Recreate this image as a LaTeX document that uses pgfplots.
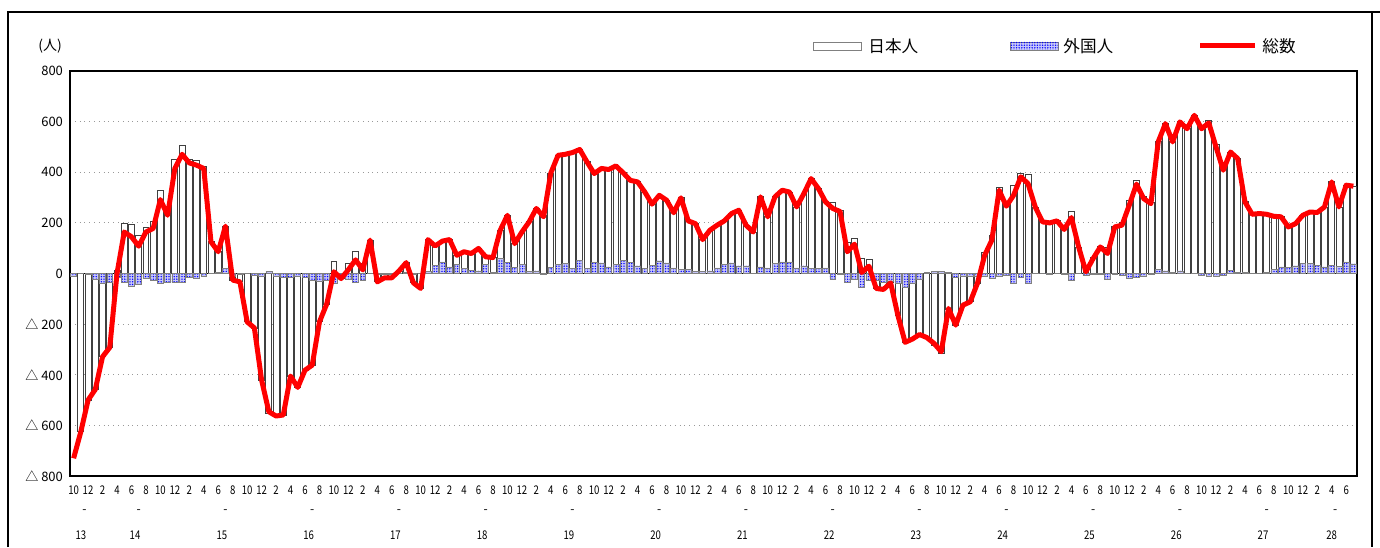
\documentclass[border=0pt]{standalone}
\usepackage{pgfplots}
\pgfplotsset{compat=1.18}
\usepackage{pgfplotstable}
\usepackage{fontspec}
\setmainfont{Noto Sans CJK JP}
\usetikzlibrary{patterns.meta}

% i = month index (0 = H13/10), W = visible Japanese bar end, F = foreigners, T = total
\pgfplotstableread{
i W F T
0 0 -10 -730
1 -625 0 -625
2 -500 -5 -500
3 -458 -22 -458
4 -329 -40 -329
5 -292 -33 -292
6 13 -13 0
7 197 -33 164
8 193 -50 145
9 151 -42 108
10 184 -20 164
11 204 -26 178
12 329 -37 292
13 265 -35 230
14 450 -35 415
15 507 -36 471
16 450 -13 437
17 447 -20 428
18 425 -10 415
19 125 2 125
20 86 5 86
21 187 20 187
22 -26 -10 -26
23 -33 -5 -33
24 -191 0 -191
25 -215 -8 -215
26 -421 -10 -421
27 -553 7 -546
28 -563 -10 -563
29 -559 -15 -559
30 -405 -15 -405
31 -450 -12 -450
32 -382 -15 -382
33 -362 -25 -362
34 -191 -30 -191
35 -121 -25 -121
36 47 -40 7
37 -20 -10 -20
38 39 -24 15
39 89 -35 54
40 39 -25 14
41 132 0 132
42 -33 -5 -33
43 -17 -5 -17
44 -17 -3 -17
45 10 0 10
46 43 3 43
47 -37 -3 -37
48 -59 0 -59
49 134 9 134
50 109 33 109
51 128 46 128
52 134 26 134
53 72 37 72
54 86 20 86
55 79 13 79
56 99 10 99
57 66 37 66
58 63 5 63
59 171 59 171
60 230 43 230
61 118 24 118
62 164 36 164
63 204 8 204
64 257 10 257
65 229 -5 224
66 397 24 397
67 467 36 467
68 471 39 471
69 478 20 478
70 490 53 490
71 441 20 441
72 395 43 395
73 415 42 415
74 411 26 411
75 425 36 425
76 398 53 398
77 368 43 368
78 362 30 362
79 322 20 322
80 274 33 274
81 309 50 309
82 290 42 290
83 240 22 240
84 299 17 299
85 208 17 208
86 197 7 197
87 134 9 134
88 171 10 171
89 191 22 191
90 208 36 208
91 237 42 237
92 250 30 250
93 191 30 191
94 164 2 164
95 303 26 303
96 224 22 224
97 303 39 303
98 329 46 329
99 322 46 322
100 263 22 263
101 316 30 316
102 375 20 375
103 336 20 336
104 283 22 283
105 279 -22 257
106 250 -5 245
107 121 -36 86
108 138 -22 116
109 59 -55 4
110 55 -26 29
111 -59 -26 -59
112 -63 -33 -63
113 -37 -30 -37
114 -165 -37 -165
115 -272 -53 -272
116 -259 -37 -259
117 -241 -22 -241
118 -256 3 -253
119 -284 8 -276
120 -317 8 -309
121 -143 5 -138
122 -204 -15 -204
123 -125 -10 -125
124 -112 -10 -112
125 -39 -10 -39
126 82 -10 72
127 150 -18 132
128 340 -11 329
129 272 -6 266
130 349 -40 309
131 397 -15 382
132 392 -37 355
133 263 2 263
134 204 0 204
135 205 -5 200
136 208 0 208
137 179 -5 174
138 246 -26 221
139 105 0 105
140 15 -8 7
141 62 -3 59
142 108 -3 105
143 103 -24 79
144 187 -3 184
145 200 -9 191
146 290 -20 270
147 368 -16 353
148 303 -12 296
149 279 -3 276
150 520 17 520
151 592 10 592
152 520 3 520
153 599 10 599
154 572 0 572
155 625 2 625
156 580 -8 572
157 605 -10 595
158 512 -12 500
159 416 -8 408
160 480 12 480
161 454 5 454
162 283 5 283
163 234 2 234
164 237 0 237
165 234 3 234
166 226 16 226
167 224 26 224
168 184 24 184
169 197 30 197
170 230 41 230
171 243 39 243
172 241 32 241
173 263 26 263
174 362 33 362
175 263 28 263
176 349 46 349
177 345 38 345
}\data

\definecolor{foreignbg}{RGB}{200,200,248}
\tikzset{foreignfill/.style={fill=foreignbg, postaction={pattern={Dots[distance=1.3pt, radius=0.38pt]}, pattern color=blue}}}

\begin{document}
\begin{tikzpicture}[x=0.5pt,y=0.5pt]
\useasboundingbox (0,0) rectangle (1380,547);
% outer frame
\draw[line width=0.8pt] (8,0) -- (8,535) -- (1380,535);
\draw[line width=0.8pt] (1372,535) -- (1372,0);
% unit
\node[anchor=west, font=\fontsize{7}{7}\selectfont, inner sep=0pt] at (38,501) {(人)};
% legend
\draw[gray, fill=white, line width=0.4pt] (813,497) rectangle (861,505);
\node[anchor=west, font=\fontsize{8.3}{8.3}\selectfont, inner sep=0pt] at (868,501) {日本人};
\draw[gray, foreignfill, line width=0.4pt] (1010,497) rectangle (1058,505);
\node[anchor=west, font=\fontsize{8.3}{8.3}\selectfont, inner sep=0pt] at (1063,501) {外国人};
\draw[red, line width=2.5pt] (1200,501) -- (1255,501);
\node[anchor=west, font=\fontsize{8.3}{8.3}\selectfont, inner sep=0pt] at (1262,501) {総数};

\begin{axis}[
  at={(35pt,35.5pt)}, anchor=south west,
  scale only axis, width=643.5pt, height=202.5pt,
  xmin=-0.5, xmax=177.5, ymin=-800, ymax=800,
  axis line style={line width=1pt},
  major tick length=0pt,
  clip=false,
  ytick={-800,-600,-400,-200,0,200,400,600,800},
  yticklabels={△ 800,△ 600,△ 400,△ 200,0,200,400,600,800},
  yticklabel style={font=\fontsize{6.5}{6.5}\selectfont},
  ymajorgrids,
  grid style={gray!80, dotted, line width=0.4pt},
  extra y ticks={0},
  extra y tick labels={},
  extra y tick style={grid style={solid, black, line width=0.6pt}},
  xtick={0,2,...,176},
  xticklabels={10,12,
    2,4,6,8,10,12, 2,4,6,8,10,12, 2,4,6,8,10,12, 2,4,6,8,10,12,
    2,4,6,8,10,12, 2,4,6,8,10,12, 2,4,6,8,10,12, 2,4,6,8,10,12,
    2,4,6,8,10,12, 2,4,6,8,10,12, 2,4,6,8,10,12, 2,4,6,8,10,12,
    2,4,6,8,10,12, 2,4,6,8,10,12,
    2,4,6},
  xticklabel style={font=\fontsize{6}{6}\selectfont, xscale=0.8, yshift=-1.5pt},
]
\addplot[ybar, bar shift=0pt, bar width=0.82, fill=white, draw=black!75, line width=0.4pt] table[x=i, y=W] {\data};
\addplot[ybar, bar shift=0pt, bar width=0.82, foreignfill, draw=gray, line width=0.3pt] table[x=i, y=F] {\data};
\addplot[red, line width=2.5pt, mark=none, line join=round] table[x=i, y=T] {\data};

% year labels
\node[font=\fontsize{6}{6}\selectfont, xscale=0.8] at (axis cs:1,-1033) {13};
\node[font=\fontsize{6}{6}\selectfont] at (axis cs:1.5,-942) {-};
\pgfplotsinvokeforeach{14,...,27}{
  \node[font=\fontsize{6}{6}\selectfont, xscale=0.8] at (axis cs:{8.5+12*(#1-14)},-1033) {#1};
  \node[font=\fontsize{6}{6}\selectfont] at (axis cs:{9+12*(#1-14)},-942) {-};
}
\node[font=\fontsize{6}{6}\selectfont, xscale=0.8] at (axis cs:174,-1033) {28};
\node[font=\fontsize{6}{6}\selectfont] at (axis cs:174.5,-942) {-};
\end{axis}
\end{tikzpicture}
\end{document}
